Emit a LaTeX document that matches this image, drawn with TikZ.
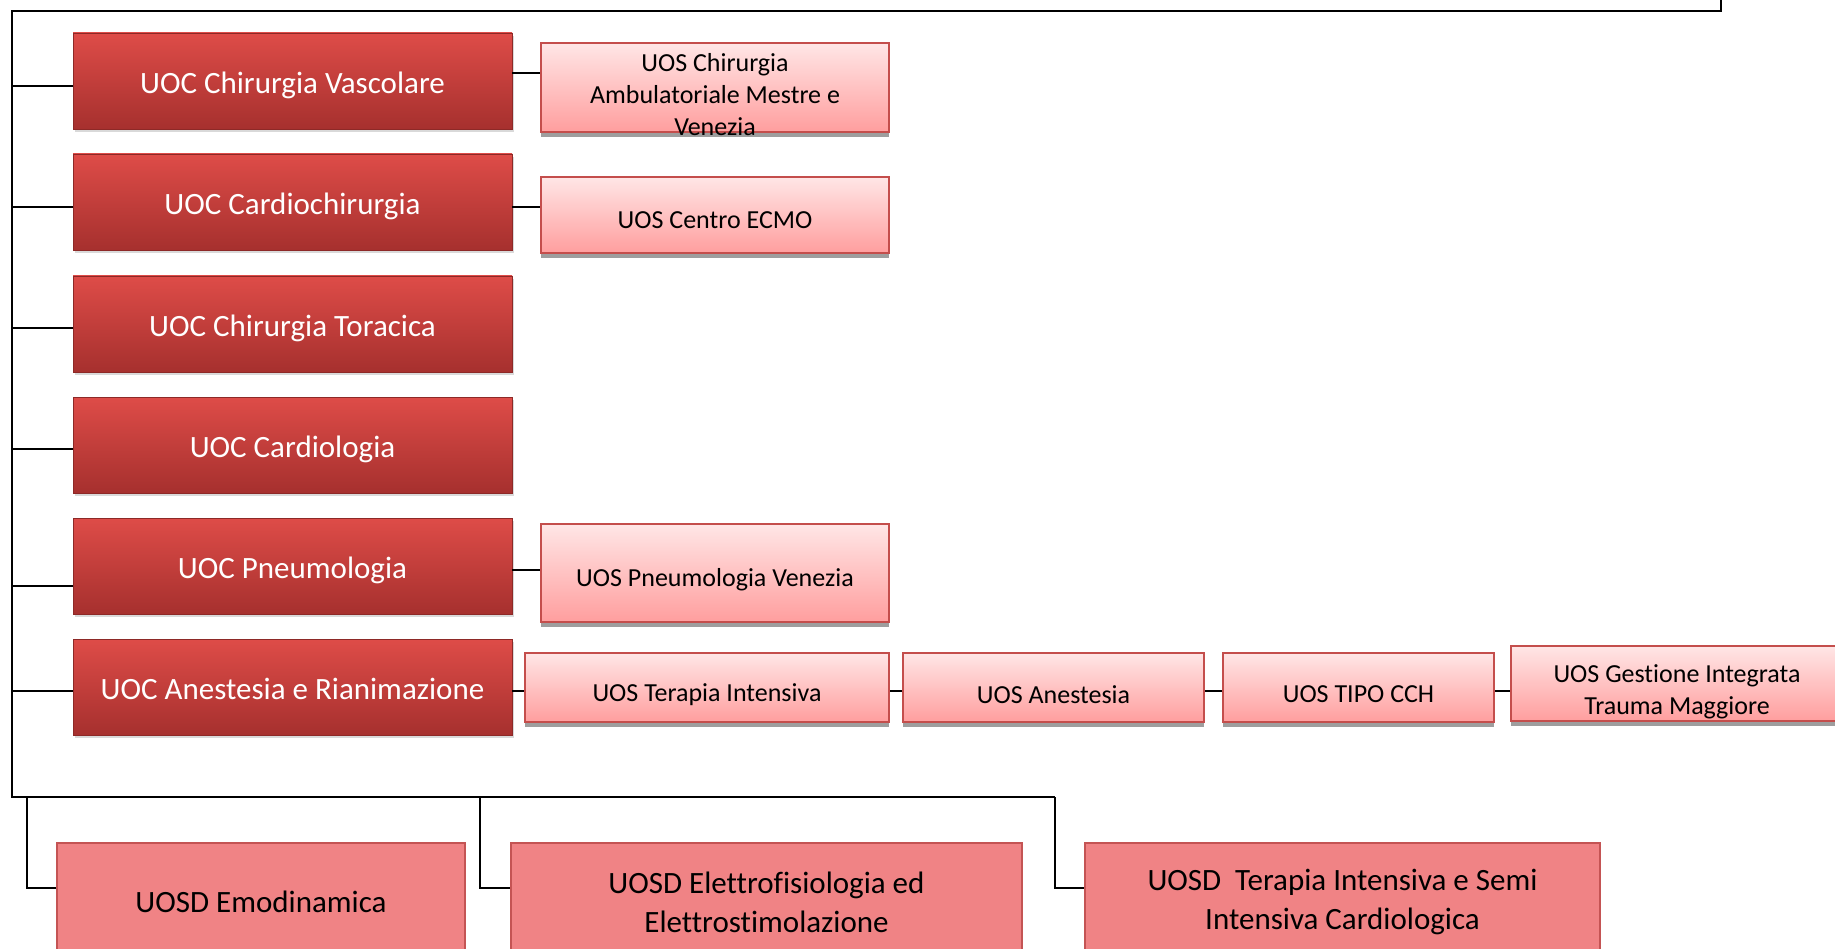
\documentclass[tikz,border=0pt]{standalone}
\usepackage{fontspec}
\setmainfont{Carlito}[Ligatures = NoCommon]
\usetikzlibrary{shadows}

\definecolor{uocTop}{RGB}{222,76,72}
\definecolor{uocBot}{RGB}{166,48,46}
\definecolor{uosTop}{RGB}{255,230,230}
\definecolor{uosBot}{RGB}{255,158,158}
\definecolor{uosLine}{RGB}{196,78,76}
\definecolor{uosdFill}{RGB}{240,131,133}
\definecolor{uosdLine}{RGB}{196,84,84}

\tikzset{
	uoc/.style = {draw = uocBot!85!black, line width = 0.8pt, top color = uocTop, bottom color = uocBot,
		text = white, minimum width = 439pt, minimum height = 96pt, inner sep = 0pt,
		text height = 31pt, text depth = 6pt,
		font = \fontsize{31}{38}\selectfont,
		drop shadow = {shadow xshift = 2pt, shadow yshift = -3pt, opacity = 0.3}},
	uos/.style = {draw = uosLine, line width = 2pt, top color = uosTop, bottom color = uosBot, inner sep = 0pt,
		drop shadow = {shadow xshift = 0pt, shadow yshift = -5pt, fill = black!38, opacity = 1}},
	uostext/.style = {align = center, inner sep = 0pt, font = \fontsize{26}{32}\selectfont},
	uosd/.style = {draw = uosdLine, line width = 2pt, fill = uosdFill, align = center, inner sep = 0pt,
		font = \fontsize{31}{39}\selectfont},
	link/.style = {line width = 2pt}
}

\begin{document}
\begin{tikzpicture}[x = 1pt, y = -1pt]
	\useasboundingbox (0,0) rectangle (1835,949);

	% UOC column
	\node [uoc] (uocCV) at (292.5,81) {UOC Chirurgia Vascolare};
	\node [uoc] (uocCC) at (292.5,202) {UOC Cardiochirurgia};
	\node [uoc] (uocCT) at (292.5,324) {UOC Chirurgia Toracica};
	\node [uoc] (uocCA) at (292.5,445) {UOC Cardiologia};
	\node [uoc] (uocPN) at (292.5,566) {UOC Pneumologia};
	\node [uoc] (uocAR) at (292.5,687) {UOC Anestesia e Rianimazione};

	% UOS boxes
	\node [uos, minimum width = 348pt, minimum height = 89pt,
		label = {[uostext, yshift = -7pt]center:UOS Chirurgia\\Ambulatoriale Mestre e\\Venezia}] (uosAMV) at (715,87.5) {};
	\node [uos, minimum width = 348pt, minimum height = 76pt,
		label = {[uostext, yshift = -5pt]center:UOS Centro ECMO}] (uosECMO) at (715,215) {};
	\node [uos, minimum width = 348pt, minimum height = 98pt,
		label = {[uostext, yshift = -7pt]center:UOS Pneumologia Venezia}] (uosPV) at (715,573) {};
	\node [uos, minimum width = 364pt, minimum height = 69pt,
		label = {[uostext, yshift = -7pt]center:UOS Terapia Intensiva}] (uosTI) at (707,687.5) {};
	\node [uos, minimum width = 301pt, minimum height = 69pt,
		label = {[uostext, yshift = -7pt]center:UOS Anestesia}] (uosAN) at (1053.5,687.5) {};
	\node [uos, minimum width = 271pt, minimum height = 69pt,
		label = {[uostext, yshift = -7pt]center:UOS TIPO CCH}] (uosCCH) at (1358.5,687.5) {};
	\node [uos, minimum width = 332pt, minimum height = 75pt,
		label = {[uostext, yshift = -8pt]center:UOS Gestione Integrata\\Trauma Maggiore}] (uosGI) at (1677,683.5) {};

	% UOSD row
	\node [uosd, minimum width = 408pt, minimum height = 118pt] (uosdEM) at (261,902) {UOSD Emodinamica};
	\node [uosd, minimum width = 511pt, minimum height = 118pt] (uosdEF) at (766.5,902) {UOSD Elettrofisiologia ed\\Elettrostimolazione};
	\node [uosd, minimum width = 515pt, minimum height = 118pt] (uosdTI) at (1342.5,902) {UOSD\ \ Terapia Intensiva e Semi\\Intensiva Cardiologica};

	% tree lines
	\coordinate (spineTop) at (11.7,11);
	\coordinate (spineBot) at (11.7,797);
	\coordinate (topRight) at (1721,11);
	\coordinate (topEnd) at (1721,0);
	\coordinate (dropEM) at (27,797);
	\coordinate (dropEF) at (480,797);
	\coordinate (dropTI) at (1055,797);

	\draw [link] (topEnd) -- (topRight) -- (spineTop) -- (spineBot) -- (dropTI);
	\foreach \n/\y in {uocCV/86, uocCC/207, uocCT/328, uocCA/449, uocPN/586, uocAR/691}{
		\draw [link] (spineTop |- 0,\y) -- (\n.west |- 0,\y);
	}
	\draw [link] (uocCV.east |- 0,73) -- (uosAMV.west |- 0,73);
	\draw [link] (uocCC.east |- 0,207) -- (uosECMO.west |- 0,207);
	\draw [link] (uocPN.east |- 0,570) -- (uosPV.west |- 0,570);
	\draw [link] (uocAR.east |- 0,691) -- (uosTI.west |- 0,691);
	\draw [link] (uosTI.east |- 0,691) -- (uosAN.west |- 0,691);
	\draw [link] (uosAN.east |- 0,691) -- (uosCCH.west |- 0,691);
	\draw [link] (uosCCH.east |- 0,691) -- (uosGI.west |- 0,691);
	\draw [link] (dropEM) |- (uosdEM.west |- 0,888);
	\draw [link] (dropEF) |- (uosdEF.west |- 0,888);
	\draw [link] (dropTI) |- (uosdTI.west |- 0,888);
\end{tikzpicture}
\end{document}
